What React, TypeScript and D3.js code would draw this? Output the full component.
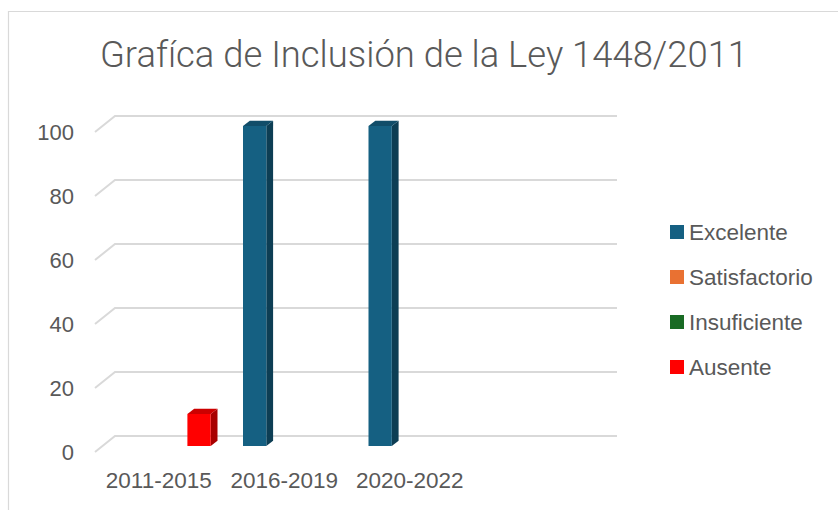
import React from "react";
import * as d3 from "d3";

const categories = ["2011-2015", "2016-2019", "2020-2022", ""];
const seriesNames = ["Excelente", "Satisfactorio", "Insuficiente", "Ausente"];
const excelente = [0, 100, 100, 0];
const satisfactorio = [0, 0, 0, 0];
const insuficiente = [0, 0, 0, 0];
const ausente = [10, 0, 0, 0];
const yTicks = [0, 20, 40, 60, 80, 100];
const title = "Grafíca de Inclusión de la Ley 1448/2011";

const seriesValues = [excelente, satisfactorio, insuficiente, ausente];
const colors = [
  { front: "#156082", side: "#0D3E54", top: "#114D69" },
  { front: "#E97132", side: "#A34F23", top: "#C75F2A" },
  { front: "#196B24", side: "#114A19", top: "#155A1E" },
  { front: "#FF0000", side: "#A80000", top: "#CC0000" },
];

const W = 838;
const H = 510;
// back wall plane
const x = d3.scaleBand<string>().domain(categories).range([115, 617]);
const y = d3.scaleLinear().domain([0, 100]).range([436, 116]);
// floor depth (back -> front)
const FDX = -20;
const FDY = 16;
// bar plane offset from back wall
const BDX = -12.5;
const BDY = 10;
// bar depth
const DX = 6.8;
const DY = -5.3;
const x1 = d3.scaleBand<string>().domain(seriesNames).range([15, 15 + 4 * 23.3]);

const textColor = "#595959";
const font = "'Liberation Sans', Arial, sans-serif";

export default function App() {
  const bars: JSX.Element[] = [];
  seriesNames.forEach((s, si) => {
    categories.forEach((c, ci) => {
      const v = seriesValues[si][ci];
      if (!v) return;
      const x0 = (x(c) as number) + BDX + (x1(s) as number);
      const w = x1.bandwidth();
      const yt = y(v) + BDY;
      const yb = y(0) + BDY;
      const col = colors[si];
      bars.push(
        <g key={`${si}-${ci}`}>
          <path
            d={`M${x0 + w},${yb} L${x0 + w + DX},${yb + DY} L${x0 + w + DX},${yt + DY} L${x0 + w},${yt} Z`}
            fill={col.side}
          />
          <path
            d={`M${x0},${yt} L${x0 + DX},${yt + DY} L${x0 + w + DX},${yt + DY} L${x0 + w},${yt} Z`}
            fill={col.top}
          />
          <rect x={x0} y={yt} width={w} height={yb - yt} fill={col.front} />
        </g>
      );
    });
  });

  return (
    <div style={{ position: "absolute", left: 0, top: 0, width: W, height: H, background: "#fff" }}>
      <svg width={W} height={H} style={{ display: "block" }}>
        <rect x={0} y={0} width={W} height={H} fill="#fff" />
        <path d={`M8.5,${H} L8.5,11.5 L${W},11.5`} fill="none" stroke="#d9d9d9" strokeWidth={1.2} />
        <text
          x={424}
          y={67}
          textAnchor="middle"
          fontFamily="Roboto, sans-serif"
          fontWeight={300}
          fontSize={36.4}
          fill={textColor}
        >
          {title}
        </text>
        {yTicks.map((t) => (
          <g key={t}>
            <path
              d={`M${115 + FDX},${y(t) + FDY} L115,${y(t)} L617,${y(t)}`}
              fill="none"
              stroke="#d9d9d9"
              strokeWidth={2}
            />
            <text
              x={74}
              y={y(t) + FDY}
              dy="0.36em"
              textAnchor="end"
              fontFamily={font}
              fontSize={22}
              fill={textColor}
            >
              {t}
            </text>
          </g>
        ))}
        {bars}
        {categories.map((c) => (
          <text
            key={c}
            x={(x(c) as number) + FDX + x.bandwidth() / 2 + 1}
            y={480}
            dy="0.36em"
            textAnchor="middle"
            fontFamily={font}
            fontSize={22.5}
            fill={textColor}
          >
            {c}
          </text>
        ))}
        {seriesNames.map((s, i) => (
          <g key={s} transform={`translate(670,${225 + i * 45})`}>
            <rect x={0} y={0} width={14} height={14} fill={colors[i].front} />
            <text x={19} y={7} dy="0.36em" fontFamily={font} fontSize={22.5} fill={textColor}>
              {s}
            </text>
          </g>
        ))}
      </svg>
    </div>
  );
}
